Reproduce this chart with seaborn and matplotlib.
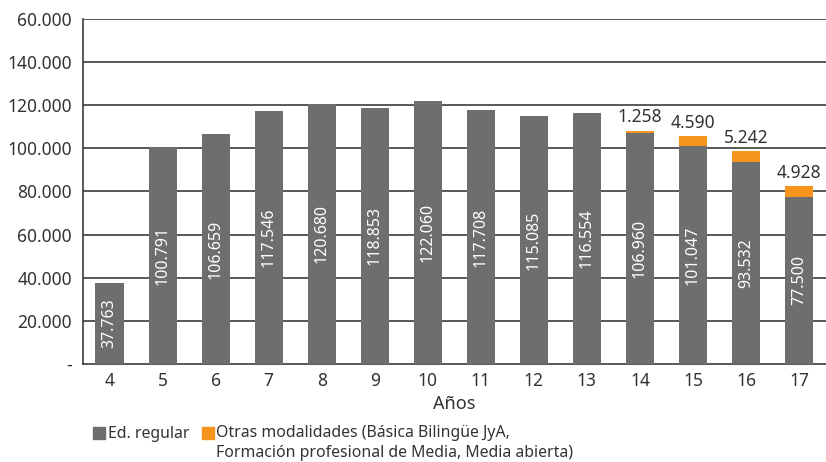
import matplotlib
matplotlib.use("Agg")
import matplotlib.pyplot as plt
from matplotlib.patches import Rectangle
import seaborn as sns
import pandas as pd
import numpy as np

# data
edades = ["4", "5", "6", "7", "8", "9", "10", "11", "12", "13", "14", "15", "16", "17"]
ed_regular = [37763, 100791, 106659, 117546, 120680, 118853, 122060,
              117708, 115085, 116554, 106960, 101047, 93532, 77500]
otras = [0, 0, 0, 0, 0, 0, 0, 0, 0, 0, 1258, 4590, 5242, 4928]
y_ticks = [0, 20000, 40000, 60000, 80000, 100000, 120000, 140000, 160000]
y_labels = ["-", "20.000", "40.000", "60.000", "80.000", "100.000",
            "120.000", "140.000", "60.000"]

GRIS = "#6d6e70"
NARANJA = "#f7941d"
TEXTO = "#333333"
LINEA = "#3c3c3c"


def miles(v):
    return f"{v:,}".replace(",", ".")


sns.set_theme(style="white")
plt.rcParams["font.family"] = ["Noto Sans", "DejaVu Sans"]

df = pd.DataFrame({"edad": edades, "regular": ed_regular, "otras": otras})
df["total"] = df["regular"] + df["otras"]

fig = plt.figure(figsize=(8.26, 4.62), dpi=100)
ax = fig.add_axes([0.1005, 0.212, 0.899, 0.747])

# stacked look: total in orange underneath, regular in grey on top
sns.barplot(data=df, x="edad", y="total", order=edades, color=NARANJA,
            saturation=1, width=0.53, linewidth=0, ax=ax, zorder=2)
sns.barplot(data=df, x="edad", y="regular", order=edades, color=GRIS,
            saturation=1, width=0.53, linewidth=0, ax=ax, zorder=3)

tot_cont, reg_cont = ax.containers[0], ax.containers[1]
ax.bar_label(tot_cont, labels=[miles(o) if o else "" for o in otras],
             padding=3, fontsize=12.5, color=TEXTO)
ax.bar_label(reg_cont, labels=[miles(v) for v in ed_regular],
             label_type="center", rotation=90, fontsize=11.5, color="white")

ax.set_xlim(-0.5, len(edades) - 0.5)
ax.set_ylim(0, 160000)
ax.set_yticks(y_ticks)
ax.set_yticklabels(y_labels)
for y in y_ticks[1:]:
    ax.axhline(y, color=LINEA, lw=1.2, zorder=1)

ax.set_xticks(np.arange(-0.5, len(edades), 1.0), minor=True)
ax.tick_params(axis="x", which="major", length=0, pad=6, labelsize=12.5, colors=TEXTO)
ax.tick_params(axis="x", which="minor", length=6, width=1.2, color=LINEA, direction="out")
ax.tick_params(axis="y", length=5, width=1.2, labelsize=12.5, direction="out", pad=3)
ax.tick_params(axis="y", colors=LINEA, labelcolor=TEXTO)

ax.set_xlabel("Años", fontsize=13, color=TEXTO, labelpad=3)
ax.set_ylabel("")
for s in ["top", "right"]:
    ax.spines[s].set_visible(False)
for s in ["left", "bottom"]:
    ax.spines[s].set_color(LINEA)
    ax.spines[s].set_linewidth(1.2)

# legend below the chart
W, H = 826, 462
fig.add_artist(Rectangle((93 / W, 1 - 439 / H), 12 / W, 12 / H,
                         transform=fig.transFigure, color=GRIS))
fig.text(108 / W, 1 - 434 / H, "Ed. regular", fontsize=11.4, color=TEXTO, va="center")
fig.add_artist(Rectangle((202 / W, 1 - 439 / H), 12 / W, 12 / H,
                         transform=fig.transFigure, color=NARANJA))
fig.text(216 / W, 1 - 425 / H,
         "Otras modalidades (Básica Bilingüe JyA,\nFormación profesional de Media, Media abierta)",
         fontsize=11.4, color=TEXTO, va="top", linespacing=1.35)

fig.savefig("out.png", dpi=100)
